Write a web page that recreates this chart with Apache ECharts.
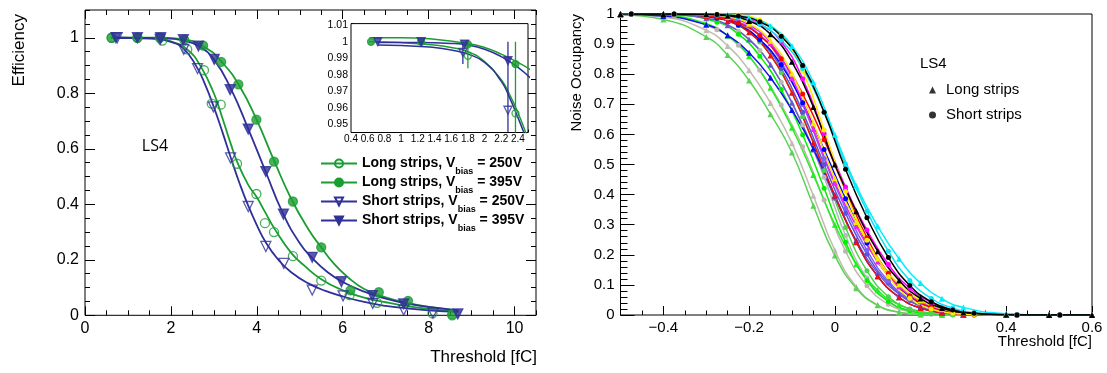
<!DOCTYPE html>
<html><head><meta charset="utf-8">
<script src="https://cdn.jsdelivr.net/npm/echarts@6/dist/echarts.min.js"></script>
<style>html,body{margin:0;padding:0;background:#fff}#c{width:1107px;height:373px}</style>
</head><body><div id="c"></div>
<script>
// ---------- Left panel: efficiency vs threshold ----------
const effXTicks = [0, 2, 4, 6, 8, 10];
const effYTicks = [0, 0.2, 0.4, 0.6, 0.8, 1];

const longLowX  = [0.62, 1.22, 1.8, 2.38, 2.77, 2.95, 3.16, 3.54, 3.99, 4.19, 4.40, 4.84, 5.50, 6.16, 6.80, 8.09, 8.55];
const longLowY  = [1.0, 1.0, 0.99, 0.958, 0.883, 0.763, 0.759, 0.546, 0.437, 0.332, 0.30, 0.213, 0.125, 0.073, 0.045, 0.007, 0.0];
const longHighX = [0.62, 1.22, 1.74, 2.31, 2.75, 3.17, 3.57, 3.99, 4.40, 4.84, 5.50, 6.18, 6.84, 7.52, 8.55];
const longHighY = [1.0, 1.0, 1.0, 0.993, 0.972, 0.913, 0.832, 0.705, 0.554, 0.41, 0.245, 0.09, 0.083, 0.052, 0.003];
const shortLowX = [0.75, 1.75, 2.30, 2.62, 2.99, 3.39, 3.80, 4.21, 4.63, 5.29, 6.01, 6.70, 7.42, 8.10];
const shortLowY = [1.0, 0.994, 0.958, 0.889, 0.751, 0.567, 0.392, 0.248, 0.187, 0.091, 0.07, 0.043, 0.019, 0.008];
const shortHighX = [0.72, 1.22, 1.76, 2.29, 2.64, 3.01, 3.38, 3.80, 4.21, 4.62, 5.29, 5.97, 6.69, 7.42, 8.68];
const shortHighY = [1.0, 1.0, 1.0, 0.993, 0.97, 0.922, 0.813, 0.671, 0.518, 0.364, 0.209, 0.121, 0.071, 0.041, 0.005];

const fitLongLowX  = [0.6, 1.5, 2.0, 2.4, 2.7, 3.0, 3.2, 3.4, 3.55, 3.8, 4.0, 4.2, 4.4, 4.8, 5.1, 5.5, 6.0, 6.5, 7.0, 7.5, 8.0, 8.6];
const fitLongLowY  = [1.0, 0.998, 0.987, 0.955, 0.895, 0.80, 0.71, 0.615, 0.55, 0.47, 0.425, 0.37, 0.315, 0.225, 0.18, 0.13, 0.09, 0.064, 0.047, 0.033, 0.023, 0.014];
const fitLongHighX = [0.6, 1.8, 2.3, 2.8, 3.2, 3.6, 4.0, 4.4, 4.8, 5.2, 5.5, 5.8, 6.1, 6.5, 7.0, 7.5, 8.0, 8.6];
const fitLongHighY = [1.0, 1.0, 0.994, 0.965, 0.91, 0.825, 0.703, 0.558, 0.42, 0.31, 0.245, 0.185, 0.14, 0.095, 0.065, 0.045, 0.03, 0.018];
const fitShortLowX = [0.7, 1.5, 2.0, 2.3, 2.6, 2.8, 3.0, 3.2, 3.4, 3.6, 3.8, 4.0, 4.2, 4.5, 4.8, 5.2, 5.6, 6.0, 6.5, 7.0, 7.5, 8.0, 8.7];
const fitShortLowY = [1.0, 0.998, 0.985, 0.96, 0.895, 0.83, 0.75, 0.66, 0.565, 0.475, 0.395, 0.325, 0.265, 0.2, 0.155, 0.115, 0.088, 0.068, 0.048, 0.034, 0.025, 0.018, 0.012];
const fitShortHighX = [0.7, 1.8, 2.3, 2.65, 3.0, 3.4, 3.8, 4.2, 4.6, 5.0, 5.3, 5.65, 6.0, 6.5, 7.0, 7.5, 8.0, 8.7];
const fitShortHighY = [1.0, 0.998, 0.99, 0.97, 0.922, 0.815, 0.672, 0.52, 0.37, 0.26, 0.205, 0.155, 0.12, 0.085, 0.06, 0.042, 0.03, 0.018];

// ---------- Inset ----------
const insetXTicks = [0.4, 0.6, 0.8, 1, 1.2, 1.4, 1.6, 1.8, 2, 2.2, 2.4];
const insetYTicks = [0.95, 0.96, 0.97, 0.98, 0.99, 1, 1.01];
const insetFitLongLowX = [0.62, 1.0, 1.4, 1.6, 1.8, 2.0, 2.2, 2.3, 2.4, 2.5, 2.55];
const insetFitLongLowY = [1.0, 0.9995, 0.998, 0.9965, 0.994, 0.988, 0.977, 0.968, 0.957, 0.944, 0.937];
const insetFitLongHighX = [0.62, 1.0, 1.4, 1.8, 2.0, 2.2, 2.4, 2.55];
const insetFitLongHighY = [1.0025, 1.0025, 1.0015, 0.999, 0.9965, 0.9925, 0.9875, 0.983];
const insetFitShortLowX = [0.72, 1.0, 1.4, 1.6, 1.8, 2.0, 2.2, 2.3, 2.4, 2.5];
const insetFitShortLowY = [0.998, 0.9978, 0.9965, 0.995, 0.9925, 0.9875, 0.976, 0.966, 0.954, 0.941];
const insetFitShortHighX = [0.72, 1.2, 1.6, 1.8, 2.0, 2.2, 2.4, 2.55];
const insetFitShortHighY = [0.9995, 0.9995, 0.999, 0.998, 0.9955, 0.991, 0.9845, 0.978];
const insetLongLowPts = [[1.8, 0.9915], [2.37, 0.9566]];
const insetLongHighPts = [[0.64, 1.0], [1.24, 1.0], [1.8, 0.9985], [2.37, 0.9865]];
const insetShortLowPts = [[1.74, 0.9935], [2.28, 0.9585]];
const insetShortHighPts = [[0.72, 1.0], [1.24, 1.0], [1.76, 0.9985], [2.28, 0.9885]];
const insetLongErr = [[1.8, 0.984, 0.9985], [2.37, 0.935, 1.0]];
const insetShortErr = [[1.74, 0.9865, 0.998], [2.28, 0.935, 1.0]];

// ---------- Right panel: noise occupancy ----------
const occXTicks = [-0.4, -0.2, 0, 0.2, 0.4, 0.6];
const occYTicks = [0, 0.1, 0.2, 0.3, 0.4, 0.5, 0.6, 0.7, 0.8, 0.9, 1];
const occXLong  = [-0.5, -0.4, -0.3, -0.25, -0.2, -0.15, -0.1, -0.05, 0, 0.05, 0.1, 0.15, 0.2, 0.25, 0.3, 0.4, 0.5, 0.6];
const occXShort = [-0.475, -0.375, -0.275, -0.225, -0.175, -0.125, -0.075, -0.025, 0.025, 0.075, 0.125, 0.175, 0.225, 0.275, 0.325, 0.425, 0.525, 0.625];

const occGrayShort   = [0.999,0.991,0.948,0.896,0.813,0.698,0.559,0.382,0.212,0.097,0.036,0.011,0.003,0.001,0,0,0,0];
const occGrayLong    = [0.999,0.99,0.946,0.894,0.813,0.704,0.571,0.396,0.215,0.094,0.033,0.009,0.002,0,0,0,0,0];
const occGrayShort2  = [1,0.998,0.977,0.943,0.879,0.773,0.631,0.458,0.264,0.123,0.046,0.014,0.003,0.001,0,0,0,0];
const occLightGreenLong = [0.997,0.982,0.924,0.864,0.779,0.667,0.54,0.363,0.198,0.089,0.032,0.009,0.002,0,0,0,0,0];
const occGreenLong   = [1,0.996,0.968,0.928,0.86,0.755,0.622,0.465,0.30,0.169,0.082,0.034,0.012,0.004,0.001,0,0,0];
const occGreenShort  = [1,0.997,0.973,0.933,0.86,0.749,0.599,0.421,0.242,0.115,0.045,0.014,0.004,0.001,0,0,0,0];
const occGreenShort2 = [1,0.999,0.987,0.962,0.907,0.806,0.659,0.48,0.291,0.147,0.061,0.02,0.005,0.001,0,0,0,0];
const occSlateShort  = [1,0.999,0.988,0.966,0.913,0.819,0.674,0.5,0.338,0.202,0.106,0.048,0.019,0.006,0.002,0,0,0];
const occSlateLong   = [1,0.999,0.986,0.963,0.915,0.831,0.705,0.55,0.39,0.248,0.14,0.069,0.03,0.011,0.004,0,0,0];
const occVioletShort = [1,1,0.992,0.974,0.93,0.841,0.699,0.519,0.354,0.215,0.113,0.052,0.021,0.007,0.002,0,0,0];
const occBlueShort   = [1,0.999,0.986,0.963,0.915,0.831,0.705,0.55,0.386,0.239,0.13,0.062,0.025,0.009,0.003,0,0,0];
const occBlueLong    = [0.999,0.993,0.964,0.929,0.871,0.788,0.681,0.553,0.397,0.243,0.129,0.059,0.023,0.008,0.002,0,0,0];
const occRedShort    = [1,0.999,0.989,0.97,0.928,0.851,0.734,0.582,0.414,0.257,0.139,0.064,0.025,0.009,0.002,0,0,0];
const occRedLong     = [1,1,0.993,0.977,0.939,0.862,0.738,0.572,0.397,0.242,0.129,0.059,0.023,0.008,0.002,0,0,0];
const occMagentaShort= [1,1,0.998,0.991,0.967,0.907,0.785,0.603,0.425,0.282,0.168,0.089,0.042,0.017,0.006,0.001,0,0];
const occMagentaLong = [1,1,0.997,0.989,0.964,0.903,0.788,0.618,0.439,0.295,0.178,0.095,0.046,0.019,0.007,0.001,0,0];
const occYellowShort = [1,1,0.999,0.996,0.98,0.929,0.811,0.615,0.41,0.248,0.128,0.056,0.02,0.006,0.002,0,0,0];
const occYellowLong  = [1,1,0.998,0.991,0.968,0.911,0.802,0.637,0.454,0.309,0.188,0.102,0.049,0.021,0.008,0.001,0,0];
const occCyanLong    = [1,1,0.999,0.997,0.988,0.96,0.894,0.773,0.599,0.429,0.295,0.187,0.106,0.054,0.025,0.004,0,0];
const occCyanShort   = [1,1,0.997,0.988,0.966,0.913,0.819,0.674,0.5,0.345,0.212,0.115,0.055,0.023,0.008,0.001,0,0];
const occBlackLong   = [1,1,0.999,0.994,0.977,0.933,0.841,0.691,0.5,0.345,0.212,0.115,0.055,0.023,0.008,0.001,0,0];
const occBlackShort  = [1,1,0.998,0.993,0.974,0.926,0.829,0.674,0.484,0.323,0.191,0.098,0.044,0.017,0.006,0,0,0];

const occCurves = [
  [occGrayShort, '#bdb5ad', 'short'], [occGrayLong, '#c2bbb2', 'long'], [occGrayShort2, '#b9b9b9', 'short'],
  [occLightGreenLong, '#59d354', 'long'], [occGreenLong, '#22ee22', 'long'], [occGreenShort, '#00f000', 'short'],
  [occGreenShort2, '#4cd44c', 'short'], [occSlateShort, '#5954d8', 'short'], [occSlateLong, '#6a5acd', 'long'],
  [occVioletShort, '#8060ff', 'short'], [occBlueShort, '#0000ff', 'short'], [occBlueLong, '#1010ee', 'long'],
  [occRedShort, '#ff0000', 'short'], [occRedLong, '#ee1010', 'long'], [occMagentaShort, '#ff00ff', 'short'],
  [occMagentaLong, '#f020f0', 'long'], [occYellowShort, '#ffee00', 'short'], [occYellowLong, '#f5e800', 'long'],
  [occCyanLong, '#00eeff', 'long'], [occCyanShort, '#10e0f0', 'short'], [occBlackLong, '#000000', 'long'],
  [occBlackShort, '#000000', 'short']
];

// ---------- styles ----------
const FONT = "'Liberation Sans', Arial, Helvetica, sans-serif";
const GREEN = '#1a9e32';
const BLUE = '#30309a';
const zip = (xs, ys) => xs.map((x, i) => [x, ys[i]]);
const fmt = v => { const s = String(+(+v).toFixed(3)); return s.startsWith('-') ? '\u2212' + s.slice(1) : s; };

function ax(extra) {
  return Object.assign({ type: 'value', axisLine: { show: false, onZero: false }, splitLine: { show: false },
    axisLabel: { show: false }, axisTick: { show: false } }, extra);
}
function major(grid, pos, min, max, vals, len, label) {
  return ax({ gridIndex: grid, position: pos, min, max,
    axisTick: { show: true, inside: true, length: len, customValues: vals, lineStyle: { color: '#000', width: 1 } },
    axisLabel: label ? Object.assign({ show: true, customValues: vals, formatter: fmt, color: '#000', fontFamily: FONT }, label) : { show: false } });
}
function minor(grid, pos, min, max, interval, len) {
  return ax({ gridIndex: grid, position: pos, min, max, interval,
    axisTick: { show: true, inside: true, length: len, lineStyle: { color: '#000', width: 1 } } });
}

const xAxis = [
  major(0, 'bottom', 0, 10.5, effXTicks, 9, { fontSize: 16, margin: 5 }),
  minor(0, 'bottom', 0, 10.5, 0.5, 5),
  major(0, 'top', 0, 10.5, effXTicks, 9, null),
  minor(0, 'top', 0, 10.5, 0.5, 5),
  major(1, 'bottom', 0.4, 2.52, insetXTicks, 5, { fontSize: 10, margin: 2 }),
  minor(1, 'bottom', 0.4, 2.52, 0.1, 3),
  major(1, 'top', 0.4, 2.52, insetXTicks, 5, null),
  major(2, 'bottom', -0.5, 0.6, occXTicks, 9, { fontSize: 15, margin: 5 }),
  minor(2, 'bottom', -0.5, 0.6, 0.05, 4.5)
];
const yAxis = [
  major(0, 'left', 0, 1.1, effYTicks, 10, { fontSize: 16, margin: 6 }),
  minor(0, 'left', 0, 1.1, 0.05, 5),
  major(0, 'right', 0, 1.1, effYTicks, 10, null),
  minor(0, 'right', 0, 1.1, 0.05, 5),
  major(1, 'left', 0.945, 1.011, insetYTicks, 5, { fontSize: 10.5, margin: 3 }),
  minor(1, 'left', 0.945, 1.011, 0.005, 3),
  major(1, 'right', 0.945, 1.011, insetYTicks, 5, null),
  major(2, 'left', -0.0, 1, occYTicks, 14, { fontSize: 15, margin: 6 }),
  minor(2, 'left', 0, 1, 0.02, 7)
];

const NAMES = ['L250', 'L395', 'S250', 'S395'];
const LEG = {
  L250: '{a|Long strips, V}{s|bias}{a| = 250V}',
  L395: '{a|Long strips, V}{s|bias}{a| = 395V}',
  S250: '{a|Short strips, V}{s|bias}{a| = 250V}',
  S395: '{a|Short strips, V}{s|bias}{a| = 395V}'
};
const HOLLOW = 'rgba(0,0,0,0)';
const leftSpecs = [
  { name: 'L250', fx: fitLongLowX, fy: fitLongLowY, px: longLowX, py: longLowY, c: GREEN, sym: 'circle', rot: 0, fill: HOLLOW, size: 9,
    ifx: insetFitLongLowX, ify: insetFitLongLowY, ipts: insetLongLowPts },
  { name: 'L395', fx: fitLongHighX, fy: fitLongHighY, px: longHighX, py: longHighY, c: GREEN, sym: 'circle', rot: 0, fill: GREEN, size: 9,
    ifx: insetFitLongHighX, ify: insetFitLongHighY, ipts: insetLongHighPts },
  { name: 'S250', fx: fitShortLowX, fy: fitShortLowY, px: shortLowX, py: shortLowY, c: BLUE, sym: 'triangle', rot: 180, fill: HOLLOW, size: 10,
    ifx: insetFitShortLowX, ify: insetFitShortLowY, ipts: insetShortLowPts },
  { name: 'S395', fx: fitShortHighX, fy: fitShortHighY, px: shortHighX, py: shortHighY, c: BLUE, sym: 'triangle', rot: 180, fill: BLUE, size: 10,
    ifx: insetFitShortHighX, ify: insetFitShortHighY, ipts: insetShortHighPts }
];

const series = [];
occCurves.forEach((cv, i) => {
  const isLong = cv[2] === 'long';
  series.push({
    name: 'occ' + i, type: 'line', xAxisIndex: 7, yAxisIndex: 7, smooth: true, clip: true,
    data: zip(isLong ? occXLong : occXShort, cv[0]),
    showSymbol: true, symbol: isLong ? 'triangle' : 'circle', symbolSize: isLong ? 6 : 5,
    lineStyle: { color: cv[1], width: 1.5 }, itemStyle: { color: cv[1] }, silent: true, z: 2
  });
});
series.push({ name: 'Long strips', type: 'scatter', xAxisIndex: 7, yAxisIndex: 7, data: [], symbol: 'triangle', itemStyle: { color: '#000' } });
series.push({ name: 'Short strips', type: 'scatter', xAxisIndex: 7, yAxisIndex: 7, data: [], symbol: 'circle', itemStyle: { color: '#000' } });

leftSpecs.forEach(s => {
  const item = { color: s.fill, borderColor: s.c, borderWidth: 1.3 };
  series.push({ name: s.name, type: 'line', xAxisIndex: 0, yAxisIndex: 0, smooth: true, showSymbol: false,
    symbol: s.sym, symbolRotate: s.rot, symbolSize: s.size, data: zip(s.fx, s.fy),
    lineStyle: { color: s.c, width: 1.8 }, itemStyle: item, silent: true, z: 2 });
  series.push({ name: s.name + 'pts', type: 'scatter', xAxisIndex: 0, yAxisIndex: 0, symbol: s.sym, symbolRotate: s.rot,
    symbolSize: s.size, data: zip(s.px, s.py), itemStyle: item, silent: true, z: 3 });
  series.push({ name: s.name + 'ifit', type: 'line', xAxisIndex: 4, yAxisIndex: 4, smooth: true, showSymbol: false, clip: true,
    data: zip(s.ifx, s.ify), lineStyle: { color: s.c, width: 1.5 }, silent: true, z: 5 });
  series.push({ name: s.name + 'ipts', type: 'scatter', xAxisIndex: 4, yAxisIndex: 4, symbol: s.sym, symbolRotate: s.rot, clip: true,
    symbolSize: s.size - 2, data: s.ipts, itemStyle: item, silent: true, z: 6 });
});
const errSeries = (data, color) => ({
  type: 'custom', xAxisIndex: 4, yAxisIndex: 4, clip: true, silent: true, z: 6, data,
  encode: { x: 0, y: [1, 2] },
  renderItem: (params, api) => {
    const p1 = api.coord([api.value(0), api.value(1)]);
    const p2 = api.coord([api.value(0), api.value(2)]);
    return { type: 'line', shape: { x1: p1[0], y1: p1[1], x2: p2[0], y2: p2[1] }, style: { stroke: color, lineWidth: 1.3 } };
  }
});
series.push(errSeries(insetLongErr, GREEN));
series.push(errSeries(insetShortErr, BLUE));

const txt = (text, x, y, opts) => ({ type: 'text', x, y, z: 100, silent: true,
  style: Object.assign({ text, fill: '#000', font: '17px ' + FONT }, opts.style), rotation: opts.rotation || 0 });

const option = {
  animation: false,
  backgroundColor: '#fff',
  grid: [
    { left: 85, top: 10, width: 451, height: 305.3, show: true, borderColor: '#000', borderWidth: 1, backgroundColor: 'transparent' },
    { left: 351, top: 23.6, width: 177, height: 108.9, show: true, borderColor: '#000', borderWidth: 1, backgroundColor: '#fff', z: 3 },
    { left: 620.5, top: 14, width: 471.5, height: 301, show: true, borderColor: '#000', borderWidth: 1, backgroundColor: 'transparent' }
  ],
  xAxis, yAxis,
  legend: [
    { data: NAMES, orient: 'vertical', left: 320, top: 151, padding: 0, itemWidth: 36, itemHeight: 10, itemGap: -6,
      selectedMode: false, formatter: n => LEG[n],
      textStyle: { color: '#000', rich: {
        a: { fontSize: 14, fontWeight: 'bold', fontFamily: FONT, color: '#000', lineHeight: 16, padding: [5, 0, 5, 0] },
        s: { fontSize: 9, fontWeight: 'bold', fontFamily: FONT, color: '#000', lineHeight: 10, padding: [16, 0, 0, 0] } } } },
    { data: ['Long strips', 'Short strips'], orient: 'vertical', left: 929, top: 81, padding: 0, itemWidth: 7, itemHeight: 7,
      itemGap: 7, selectedMode: false,
      textStyle: { color: '#000', fontSize: 15, fontFamily: FONT, lineHeight: 18, padding: [0, 0, 0, 5] } }
  ],
  graphic: [
    txt('Efficiency', 19, 14, { rotation: Math.PI / 2, style: { align: 'right', verticalAlign: 'middle' } }),
    txt('Threshold [fC]', 537, 357, { style: { align: 'right', verticalAlign: 'middle' } }),
    txt('LS4', 155, 146, { style: { align: 'center', verticalAlign: 'middle', font: "16px 'Open Sans', sans-serif" } }),
    txt('Noise Occupancy', 577, 14, { rotation: Math.PI / 2, style: { align: 'right', verticalAlign: 'middle', font: '15px ' + FONT } }),
    txt('Threshold [fC]', 1092, 342, { style: { align: 'right', verticalAlign: 'middle', font: '15px ' + FONT } }),
    txt('LS4', 920, 64, { style: { align: 'left', verticalAlign: 'middle', font: '15px ' + FONT } })
  ],
  series
};
const chart = echarts.init(document.getElementById('c'), null, { renderer: 'canvas' });
chart.setOption(option);
</script></body></html>
